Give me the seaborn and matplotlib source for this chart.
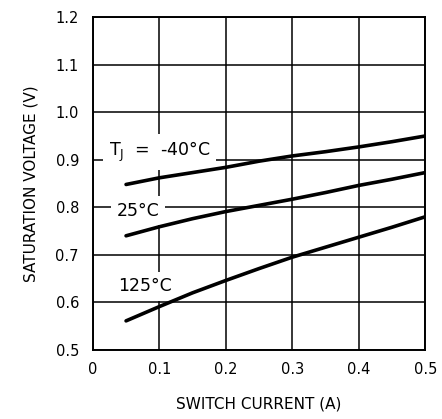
import pandas as pd
import matplotlib
matplotlib.use("Agg")
import matplotlib.pyplot as plt
import seaborn as sns

# Curve values
current = [0.05, 0.10, 0.15, 0.20, 0.25, 0.30, 0.35, 0.40, 0.45, 0.50]
v_minus40 = [0.848, 0.862, 0.873, 0.884, 0.897, 0.908, 0.917, 0.927, 0.938, 0.950]
v_25 = [0.740, 0.759, 0.776, 0.791, 0.804, 0.817, 0.831, 0.846, 0.859, 0.873]
v_125 = [0.561, 0.591, 0.620, 0.646, 0.671, 0.695, 0.716, 0.737, 0.758, 0.780]

x_ticks = [0, 0.1, 0.2, 0.3, 0.4, 0.5]
x_tick_labels = ["0", "0.1", "0.2", "0.3", "0.4", "0.5"]
y_ticks = [0.5, 0.6, 0.7, 0.8, 0.9, 1.0, 1.1, 1.2]
y_tick_labels = ["0.5", "0.6", "0.7", "0.8", "0.9", "1.0", "1.1", "1.2"]

df = pd.DataFrame({
    "current": current * 3,
    "voltage": v_minus40 + v_25 + v_125,
    "temp": ["-40"] * len(current) + ["25"] * len(current) + ["125"] * len(current),
})

sns.set_style("white")
plt.rcParams["font.family"] = ["DejaVu Sans"]
plt.rcParams["text.color"] = "black"
plt.rcParams["axes.labelcolor"] = "black"

fig = plt.figure(figsize=(4.42, 4.19), dpi=100)
ax = fig.add_axes([0.210, 0.165, 0.752, 0.794])

sns.lineplot(
    data=df, x="current", y="voltage", hue="temp",
    palette=["black", "black", "black"], linewidth=2.6,
    legend=False, ax=ax, zorder=4,
)

ax.set_xlim(0, 0.5)
ax.set_ylim(0.5, 1.2)
ax.set_xticks(x_ticks)
ax.set_xticklabels(x_tick_labels)
ax.set_yticks(y_ticks)
ax.set_yticklabels(y_tick_labels)
ax.tick_params(axis="both", length=0, labelsize=10.5, colors="black")
ax.tick_params(axis="x", pad=9)
ax.tick_params(axis="y", pad=10)

ax.set_axisbelow(True)
ax.grid(True, color="black", linewidth=1.1)
for s in ax.spines.values():
    s.set_color("black")
    s.set_linewidth(1.4)

ax.set_xlabel("SWITCH CURRENT (A)", fontsize=11, labelpad=14)
ax.set_ylabel("SATURATION VOLTAGE (V)", fontsize=11, labelpad=12)

box = dict(facecolor="white", edgecolor="none", pad=4)
ax.text(0.024, 0.916, "T$_\\mathregular{J}$  =  -40°C", fontsize=12.5,
        va="center", ha="left", bbox=box, zorder=3)
ax.text(0.036, 0.793, "25°C", fontsize=12.5, va="center", ha="left",
        bbox=box, zorder=3)
ax.text(0.038, 0.634, "125°C", fontsize=12.5, va="center", ha="left",
        bbox=box, zorder=3)

plt.savefig("out.png", dpi=100)
